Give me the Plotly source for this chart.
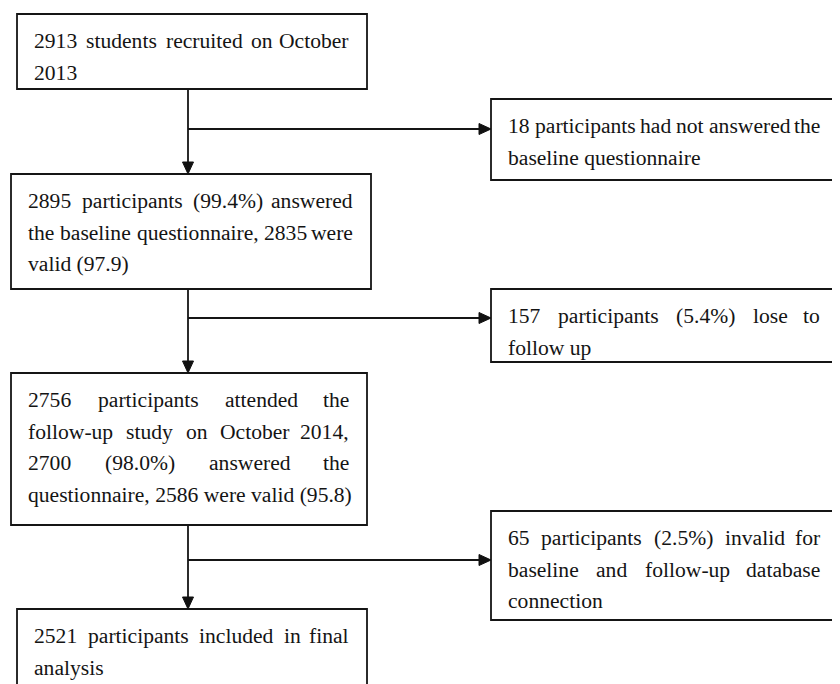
import plotly.graph_objects as go

# ---------------- content ----------------
main_texts = [
    ["2913 students recruited on October", "2013"],
    ["2895 participants (99.4%) answered", "the baseline questionnaire, 2835 were", "valid (97.9)"],
    ["2756 participants attended the", "follow-up study on October 2014,",
     "2700 (98.0%) answered the", "questionnaire, 2586 were valid (95.8)"],
    ["2521 participants included in final", "analysis"],
]
side_texts = [
    ["18 participants had not answered the", "baseline questionnaire"],
    ["157 participants (5.4%) lose to", "follow up"],
    ["65 participants (2.5%) invalid for", "baseline and follow-up database", "connection"],
]

# ---------------- layout geometry (pixels) ----------------
main_boxes = [(17, 14, 367, 89), (11, 174, 371, 289), (11, 373, 367, 525), (17, 609, 367, 686)]
side_boxes = [(491, 99, 838, 180), (491, 289, 838, 362), (491, 511, 838, 620)]
spine_x = 188
branch_y = [129, 318, 560]

FS = 21.6
FONT = "Liberation Serif, Times New Roman, serif"
COLOR = "#141414"
PAD = 16
LINE_H = 31.5
FIRST = 27
OFF = 8  # page body margin compensation

# Times metrics (1/1000 em)
W = {' ': 250, '%': 833, '(': 333, ')': 333, ',': 250, '-': 333, '.': 250,
     'a': 444, 'b': 500, 'c': 444, 'd': 500, 'e': 444, 'f': 333, 'g': 500, 'h': 500,
     'i': 278, 'j': 278, 'k': 500, 'l': 278, 'm': 778, 'n': 500, 'o': 500, 'p': 500,
     'q': 500, 'r': 333, 's': 389, 't': 278, 'u': 500, 'v': 500, 'w': 722, 'x': 500,
     'y': 500, 'z': 444, 'O': 722}
for d in "0123456789":
    W[d] = 500


def width(s):
    return sum(W.get(c, 500) for c in s) / 1000 * FS


shapes = []
annotations = []


def add_text(box, lines):
    x0, y0, x1, y1 = box
    left, right = x0 + PAD, x1 - PAD - 1
    for i, line in enumerate(lines):
        y = y0 + FIRST + i * LINE_H
        last = i == len(lines) - 1
        words = line.split(" ")
        if last or len(words) < 2:
            annotations.append(dict(x=left - 1, y=y, text=line, showarrow=False,
                                    xanchor="left", yanchor="middle",
                                    font=dict(family=FONT, size=FS, color=COLOR)))
            continue
        total = sum(width(w) for w in words)
        gap = (right - left - total) / (len(words) - 1)
        x = left
        for j, w in enumerate(words):
            if j == len(words) - 1:
                annotations.append(dict(x=right + 1, y=y, text=w, showarrow=False,
                                        xanchor="right", yanchor="middle",
                                        font=dict(family=FONT, size=FS, color=COLOR)))
            else:
                annotations.append(dict(x=x - 1, y=y, text=w, showarrow=False,
                                        xanchor="left", yanchor="middle",
                                        font=dict(family=FONT, size=FS, color=COLOR)))
            x += width(w) + gap


LINE = dict(color="#151515", width=1.8)

for box, lines in zip(main_boxes, main_texts):
    shapes.append(dict(type="rect", xref="x", yref="y", x0=box[0], y0=box[1], x1=box[2], y1=box[3],
                       line=LINE, fillcolor="rgba(0,0,0,0)"))
    add_text(box, lines)
for box, lines in zip(side_boxes, side_texts):
    shapes.append(dict(type="rect", xref="x", yref="y", x0=box[0], y0=box[1], x1=box[2], y1=box[3],
                       line=LINE, fillcolor="rgba(0,0,0,0)"))
    add_text(box, lines)

AL, AW = 12, 5.5
for i in range(3):
    top_box = main_boxes[i]
    nxt = main_boxes[i + 1]
    side = side_boxes[i]
    by = branch_y[i]
    # vertical connector
    shapes.append(dict(type="line", xref="x", yref="y", x0=spine_x, x1=spine_x,
                       y0=top_box[3], y1=nxt[1] - AL, line=LINE))
    shapes.append(dict(type="path", xref="x", yref="y",
                       path=f"M {spine_x},{nxt[1]} L {spine_x - AW},{nxt[1] - AL} L {spine_x + AW},{nxt[1] - AL} Z",
                       fillcolor="#111", line=dict(color="#111", width=1)))
    # horizontal branch
    shapes.append(dict(type="line", xref="x", yref="y", x0=spine_x, x1=side[0] - AL,
                       y0=by, y1=by, line=LINE))
    shapes.append(dict(type="path", xref="x", yref="y",
                       path=f"M {side[0]},{by} L {side[0] - AL},{by - AW} L {side[0] - AL},{by + AW} Z",
                       fillcolor="#111", line=dict(color="#111", width=1)))

fig = go.Figure()
fig.update_layout(
    width=840, height=684,
    margin=dict(l=0, r=0, t=0, b=0),
    paper_bgcolor="white", plot_bgcolor="white",
    xaxis=dict(range=[OFF, 840 + OFF], visible=False, fixedrange=True),
    yaxis=dict(range=[684 + OFF, OFF], visible=False, fixedrange=True),
    shapes=shapes, annotations=annotations, showlegend=False,
)
fig.write_html("out.html")
